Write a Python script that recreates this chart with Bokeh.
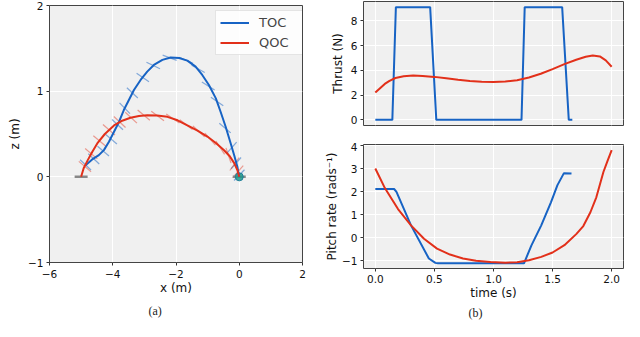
from bokeh.plotting import figure
from bokeh.layouts import row, column
from bokeh.models import FixedTicker, Legend, LegendItem, Title, Range1d
from bokeh.embed import file_html
from bokeh.resources import INLINE

# ---------------- data ----------------
# (a) trajectories in the x-z plane
toc_x = [-4.86, -4.65, -4.44, -4.28, -4.12, -3.96, -3.80, -3.65, -3.49, -3.33, -3.12, -2.91,
         -2.70, -2.43, -2.17, -1.90, -1.64, -1.38, -1.17, -0.96, -0.74, -0.59, -0.43, -0.27,
         -0.16, -0.06, 0.0]
toc_z = [0.136, 0.203, 0.253, 0.312, 0.409, 0.526, 0.643, 0.780, 0.897, 1.014, 1.131, 1.228,
         1.306, 1.365, 1.392, 1.388, 1.357, 1.287, 1.189, 1.072, 0.916, 0.760, 0.585, 0.390,
         0.253, 0.117, 0.0]
qoc_x = [-5.0, -4.92, -4.79, -4.65, -4.49, -4.25, -3.96, -3.70, -3.44, -3.17, -2.91, -2.60,
         -2.27, -1.95, -1.64, -1.32, -1.01, -0.74, -0.48, -0.30, -0.16, -0.06, 0.0]
qoc_z = [0.0, 0.10, 0.195, 0.29, 0.39, 0.50, 0.60, 0.655, 0.69, 0.71, 0.72, 0.715,
         0.70, 0.66, 0.60, 0.54, 0.47, 0.395, 0.31, 0.24, 0.16, 0.08, 0.0]

# quadrotor body orientations drawn along the paths (centre x, centre z, angle in rad)
toc_body_x = [-4.86, -4.60, -4.30, -4.05, -3.85, -3.62, -3.38, -3.05, -2.72, -2.20, -1.68,
              -1.30, -0.98, -0.70, -0.45, -0.24, -0.10, 0.0]
toc_body_z = [0.14, 0.21, 0.30, 0.44, 0.61, 0.80, 0.98, 1.16, 1.30, 1.39, 1.36, 1.26,
              1.06, 0.88, 0.57, 0.34, 0.16, 0.02]
toc_body_a = [-0.75, -0.75, -0.70, -0.70, -0.75, -0.80, -0.75, -0.60, -0.45, -0.35, -0.40,
              -0.50, -0.55, -0.60, -0.70, 0.85, 0.85, 0.80]
qoc_body_x = [-4.88, -4.68, -4.42, -4.12, -3.78, -3.42, -3.02, -2.58, -2.10, -1.68,
              -1.28, -0.92, -0.60, -0.34, -0.15, -0.04]
qoc_body_z = [0.12, 0.27, 0.42, 0.55, 0.64, 0.69, 0.72, 0.71, 0.68, 0.61,
              0.53, 0.44, 0.34, 0.25, 0.15, 0.06]
qoc_body_a = [-0.70, -0.70, -0.70, -0.72, -0.75, -0.75, -0.70, -0.65, -0.60, -0.65,
              -0.75, -0.85, -1.0, -1.25, 0.95, 0.85]

start_x, start_z = [-5.0], [0.0]
goal_x, goal_z = [0.0], [0.0]

# (b) thrust
toc_t_thrust = [0, 0.144, 0.174, 0.464, 0.516, 1.237, 1.264, 1.581, 1.637, 1.667]
toc_thrust = [0, 0, 9.1, 9.1, 0, 0, 9.1, 9.1, 0, 0]
qoc_t_thrust = [0, 0.04, 0.08, 0.12, 0.17, 0.24, 0.32, 0.40, 0.50, 0.60, 0.70, 0.80, 0.90,
                1.00, 1.10, 1.20, 1.30, 1.40, 1.50, 1.60, 1.70, 1.78, 1.84, 1.90, 1.95, 2.00]
qoc_thrust = [2.2, 2.55, 2.9, 3.15, 3.38, 3.52, 3.58, 3.55, 3.47, 3.35, 3.23, 3.13, 3.07,
              3.05, 3.09, 3.2, 3.42, 3.72, 4.1, 4.5, 4.85, 5.1, 5.2, 5.12, 4.8, 4.29]

# (b) pitch rate
toc_t_pitch = [0, 0.159, 0.179, 0.302, 0.453, 0.508, 0.53, 1.258, 1.321, 1.404, 1.486,
               1.541, 1.596, 1.66]
toc_pitch = [2.11, 2.11, 1.99, 0.53, -0.91, -1.10, -1.12, -1.12, -0.34, 0.53, 1.53,
             2.28, 2.80, 2.78]
qoc_t_pitch = [0, 0.082, 0.192, 0.302, 0.412, 0.522, 0.632, 0.742, 0.852, 0.975, 1.10, 1.20,
               1.30, 1.404, 1.50, 1.60, 1.70, 1.76, 1.82, 1.87, 1.93, 1.965, 2.0]
qoc_pitch = [3.0, 2.14, 1.24, 0.53, -0.05, -0.48, -0.74, -0.91, -1.01, -1.06, -1.09, -1.07,
             -0.99, -0.84, -0.65, -0.33, 0.15, 0.5, 1.1, 1.75, 2.85, 3.33, 3.8]

# ticks
xa_ticks = [-6, -4, -2, 0, 2]
xa_labels = ["\u22126", "\u22124", "\u22122", "0", "2"]
za_ticks = [-1, 0, 1, 2]
za_labels = ["\u22121", "0", "1", "2"]
t_ticks = [0.0, 0.5, 1.0, 1.5, 2.0]
t_labels = ["0.0", "0.5", "1.0", "1.5", "2.0"]
thrust_ticks = [0, 2, 4, 6, 8]
thrust_labels = ["0", "2", "4", "6", "8"]
pitch_ticks = [-1, 0, 1, 2, 3, 4]
pitch_labels = ["\u22121", "0", "1", "2", "3", "4"]

# ---------------- style ----------------
BLUE = "#1763c4"
RED = "#e2301a"
BG = "#f0f0f0"
FONT = "DejaVu Sans"
TICK_FS = "10.5px"
LABEL_FS = "12px"


def style(p):
    p.background_fill_color = BG
    p.border_fill_color = "white"
    p.outline_line_color = "#444444"
    p.outline_line_width = 1
    p.grid.grid_line_color = "white"
    p.grid.grid_line_width = 1
    for ax in p.axis:
        ax.axis_line_color = None
        ax.major_tick_line_color = "#333333"
        ax.major_tick_out = 3
        ax.major_tick_in = 0
        ax.minor_tick_line_color = None
        ax.major_label_text_font = FONT
        ax.major_label_text_font_size = TICK_FS
        ax.major_label_text_color = "#111111"
        ax.major_label_standoff = 3
        ax.axis_label_text_font = FONT
        ax.axis_label_text_font_size = LABEL_FS
        ax.axis_label_text_font_style = "normal"
        ax.axis_label_text_color = "#111111"


def set_ticks(ax, ticks, labels):
    ax.ticker = FixedTicker(ticks=ticks)
    ax.major_label_overrides = {t: l for t, l in zip(ticks, labels)}


def caption(text, offset, standoff):
    return Title(text=text, align="left", offset=offset, standoff=standoff,
                 text_font="Liberation Serif", text_font_size="12px",
                 text_font_style="normal", text_color="#222222")


# ---------------- (a) ----------------
pa = figure(width=320, height=321, x_range=Range1d(-6, 2), y_range=Range1d(-1, 2),
            output_backend="svg", toolbar_location=None,
            min_border_left=49, min_border_right=18, min_border_top=5, min_border_bottom=59)
style(pa)
set_ticks(pa.xaxis[0], xa_ticks, xa_labels)
set_ticks(pa.yaxis[0], za_ticks, za_labels)
pa.xaxis.axis_label = "x (m)"
pa.yaxis.axis_label = "z (m)"
pa.xaxis.axis_label_standoff = 0
pa.xaxis.major_label_standoff = 4
pa.yaxis.axis_label_standoff = 3

pa.scatter(toc_body_x, toc_body_z, marker="dash", size=15, angle=toc_body_a,
           line_color=BLUE, line_alpha=0.5, line_width=1.2)
pa.scatter(qoc_body_x, qoc_body_z, marker="dash", size=16, angle=qoc_body_a,
           line_color=RED, line_alpha=0.45, line_width=1.2)
pa.scatter(start_x, start_z, marker="dash", size=13, line_color="#888888", line_width=2.5)
pa.scatter(goal_x, goal_z, marker="dash", size=13, line_color="#888888", line_width=2.5)
pa.scatter(goal_x, goal_z, marker="circle", size=8, fill_color="#1f9a8a", line_color="#1f7f9a",
           fill_alpha=0.85)
r_toc = pa.line(toc_x, toc_z, line_color=BLUE, line_width=2)
r_qoc = pa.line(qoc_x, qoc_z, line_color=RED, line_width=2)

legend = Legend(items=[LegendItem(label="TOC", renderers=[r_toc]),
                       LegendItem(label="QOC", renderers=[r_qoc])],
                location=(166, 207), margin=0, padding=4, spacing=5,
                glyph_width=29, glyph_height=15, label_height=15, label_width=39,
                label_standoff=10, label_text_font=FONT, label_text_font_size="13px",
                border_line_color="#cccccc", border_line_width=1,
                background_fill_color="white", background_fill_alpha=0.85)
pa.add_layout(legend)
pa.add_layout(caption("(a)", 99, 8), "below")

# ---------------- (b) top: thrust ----------------
pt = figure(width=304, height=142, x_range=Range1d(-0.1, 2.1), y_range=Range1d(-0.455, 9.555),
            output_backend="svg", toolbar_location=None,
            min_border_left=43, min_border_right=1, min_border_top=1, min_border_bottom=17)
style(pt)
pt.xaxis.visible = False
pt.xgrid.ticker = FixedTicker(ticks=t_ticks)
set_ticks(pt.yaxis[0], thrust_ticks, thrust_labels)
pt.yaxis.axis_label = "Thrust (N)"
pt.yaxis.axis_label_standoff = 3
pt.line(toc_t_thrust, toc_thrust, line_color=BLUE, line_width=2)
pt.line(qoc_t_thrust, qoc_thrust, line_color=RED, line_width=2)

# ---------------- (b) bottom: pitch rate ----------------
pb = figure(width=304, height=179, x_range=Range1d(-0.1, 2.1), y_range=Range1d(-1.345, 4.045),
            output_backend="svg", toolbar_location=None,
            min_border_left=43, min_border_right=1, min_border_top=2, min_border_bottom=53)
style(pb)
set_ticks(pb.xaxis[0], t_ticks, t_labels)
set_ticks(pb.yaxis[0], pitch_ticks, pitch_labels)
pb.xaxis.axis_label = "time (s)"
pb.xaxis.axis_label_standoff = 0
pb.yaxis.axis_label = "Pitch rate (rads\u207b\u00b9)"
pb.yaxis.axis_label_standoff = 0
pb.line(toc_t_pitch, toc_pitch, line_color=BLUE, line_width=2)
pb.line(qoc_t_pitch, qoc_pitch, line_color=RED, line_width=2)
pb.add_layout(caption("(b)", 105, 3), "below")

layout = row(pa, column(pt, pb))
open("out.html", "w").write(file_html(layout, INLINE))
